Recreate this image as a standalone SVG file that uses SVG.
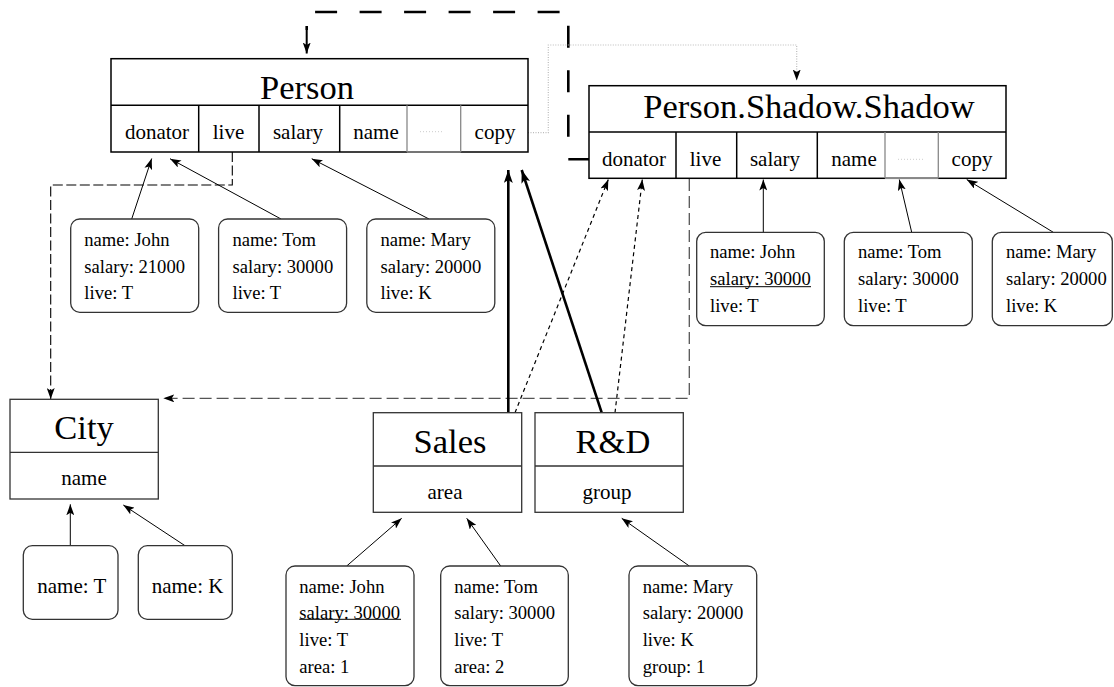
<svg xmlns="http://www.w3.org/2000/svg" width="1114" height="687" viewBox="0 0 1114 687">
<defs>
<style>
text{font-family:"Liberation Serif","Times New Roman",serif;fill:#000}
.title{font-size:34.5px;text-anchor:middle}
.attr{font-size:21px;text-anchor:middle}
.inst{font-size:18.6px}
.box{fill:#fff;stroke:#000;stroke-width:1.5}
.gbox{fill:#fff;stroke:#333;stroke-width:1.3}
.div{stroke:#000;stroke-width:1.5}
.gdiv{stroke:#888;stroke-width:1.3}
.dots{stroke:#ccc;stroke-width:1;stroke-dasharray:1,2}
.rbox{fill:#fff;stroke:#333;stroke-width:1.3}
.thin{fill:none;stroke:#000;stroke-width:1;marker-end:url(#ah)}
.thick{fill:none;stroke:#000;stroke-width:2.6;marker-end:url(#ahb)}
.dotted{fill:none;stroke:#000;stroke-width:1.2;stroke-dasharray:4,3.5;marker-end:url(#ah)}
.dash1{fill:none;stroke:#000;stroke-width:1.1;stroke-dasharray:10,3.5;marker-end:url(#ah)}
.dash2{fill:none;stroke:#555;stroke-width:1.3;stroke-dasharray:12,5;marker-end:url(#ah)}
.bigdash{fill:none;stroke:#000;stroke-width:2.6;stroke-dasharray:22,22.5}
.gdot{fill:none;stroke:#bbb;stroke-width:1.2;stroke-dasharray:1,1.5;marker-end:url(#ah)}
.ul{stroke:#000;stroke-width:1}
</style>
<marker id="ah" markerWidth="11" markerHeight="8" refX="11" refY="4" orient="auto" markerUnits="userSpaceOnUse">
<path d="M0,0 L11,4 L0,8 L2.5,4 z" fill="#000"/>
</marker>
<marker id="ahb" markerWidth="13" markerHeight="9" refX="13" refY="4.5" orient="auto" markerUnits="userSpaceOnUse">
<path d="M0,0 L13,4.5 L0,9 L3,4.5 z" fill="#000"/>
</marker>
</defs>

<g id="connectors">
<path class="bigdash" d="M590.3,159.3 H568.3 V12 H306.7 V30"/>
<path class="thin" style="stroke-width:2" d="M306.7,30 V53.5"/>
<path class="gdot" d="M528,132.7 H548.3 V45 H796.7 V80.5"/>
<path class="dash1" d="M232.3,152 V185 H50.7 V399"/>
<path class="dash2" d="M689.3,179 V398.3 H163.3"/>
<path class="thin" d="M131.7,219 L151.7,158.5"/>
<path class="thin" d="M281,219 L170,158.7"/>
<path class="thin" d="M429,219 L311.7,158.7"/>
<path class="thin" d="M763.3,232.3 V179.5"/>
<path class="thin" d="M911.7,232.3 L899.3,179.5"/>
<path class="thin" d="M1053.3,232.3 L966.7,179.5"/>
<path class="thick" d="M508.3,412.7 V170"/>
<path class="thick" d="M601.7,412.7 L521.7,170"/>
<path class="dotted" d="M515,412.7 L608.3,179.5"/>
<path class="dotted" d="M615,412.7 L642.3,179.5"/>
<path class="thin" d="M70.3,545.7 V504.3"/>
<path class="thin" d="M185,545.7 L123.3,505"/>
<path class="thin" d="M346.7,566 L401.7,518.3"/>
<path class="thin" d="M500.7,566 L466.7,518.3"/>
<path class="thin" d="M689.3,566 L621.7,518.3"/>
</g>

<g id="person">
<rect class="box" x="111" y="58.7" width="417" height="93.3"/>
<line class="div" x1="111" y1="105.3" x2="528" y2="105.3"/>
<line class="div" x1="198.7" y1="105.3" x2="198.7" y2="152"/>
<line class="div" x1="259" y1="105.3" x2="259" y2="152"/>
<line class="div" x1="339.7" y1="105.3" x2="339.7" y2="152"/>
<line class="gdiv" x1="407" y1="105.3" x2="407" y2="152"/>
<line class="gdiv" x1="460.7" y1="105.3" x2="460.7" y2="152"/>
<line class="gdiv" x1="407" y1="152" x2="460.7" y2="152"/>
<line class="dots" x1="420" y1="131.7" x2="444" y2="131.7"/>
<text class="title" x="307" y="99">Person</text>
<text class="attr" x="157" y="139">donator</text>
<text class="attr" x="228.5" y="139">live</text>
<text class="attr" x="298" y="139">salary</text>
<text class="attr" x="376" y="139">name</text>
<text class="attr" x="495" y="139">copy</text>
</g>

<g id="shadow">
<rect class="box" x="589" y="85.7" width="417" height="92.6"/>
<line class="div" x1="589" y1="132" x2="1006" y2="132"/>
<line class="div" x1="676" y1="132" x2="676" y2="178.3"/>
<line class="div" x1="736.7" y1="132" x2="736.7" y2="178.3"/>
<line class="div" x1="817.3" y1="132" x2="817.3" y2="178.3"/>
<line class="gdiv" x1="885" y1="132" x2="885" y2="178.3"/>
<line class="gdiv" x1="938.3" y1="132" x2="938.3" y2="178.3"/>
<line class="gdiv" x1="885" y1="178.3" x2="938.3" y2="178.3"/>
<line class="dots" x1="898" y1="159.3" x2="923" y2="159.3"/>
<text class="title" x="809" y="118.3">Person.Shadow.Shadow</text>
<text class="attr" x="634" y="166">donator</text>
<text class="attr" x="705.5" y="166">live</text>
<text class="attr" x="775" y="166">salary</text>
<text class="attr" x="854" y="166">name</text>
<text class="attr" x="972" y="166">copy</text>
</g>

<g id="city">
<rect class="gbox" x="10" y="399.3" width="148.3" height="99.7"/>
<line class="gdiv" style="stroke:#333" x1="10" y1="452.3" x2="158.3" y2="452.3"/>
<text class="title" x="84" y="439.3">City</text>
<text class="attr" x="84" y="485">name</text>
</g>

<g id="sales">
<rect class="gbox" x="373.3" y="412.7" width="148.4" height="99.6"/>
<line class="gdiv" style="stroke:#333" x1="373.3" y1="466" x2="521.7" y2="466"/>
<text class="title" x="450" y="452.7">Sales</text>
<text class="attr" x="445" y="499">area</text>
</g>

<g id="rnd">
<rect class="gbox" x="535" y="412.7" width="148.3" height="99.6"/>
<line class="gdiv" style="stroke:#333" x1="535" y1="466" x2="683.3" y2="466"/>
<text class="title" x="613" y="452.7">R&amp;D</text>
<text class="attr" x="607" y="499">group</text>
</g>

<g id="p-john">
<rect class="rbox" x="70.7" y="219" width="128" height="93.3" rx="9"/>
<text class="inst" x="84.3" y="246">name: John</text>
<text class="inst" x="84.3" y="272.7">salary: 21000</text>
<text class="inst" x="84.3" y="299.3">live: T</text>
</g>
<g id="p-tom">
<rect class="rbox" x="218.6" y="219" width="128" height="93.3" rx="9"/>
<text class="inst" x="232.5" y="246">name: Tom</text>
<text class="inst" x="232.5" y="272.7">salary: 30000</text>
<text class="inst" x="232.5" y="299.3">live: T</text>
</g>
<g id="p-mary">
<rect class="rbox" x="366.8" y="219" width="128" height="93.3" rx="9"/>
<text class="inst" x="380.5" y="246">name: Mary</text>
<text class="inst" x="380.5" y="272.7">salary: 20000</text>
<text class="inst" x="380.5" y="299.3">live: K</text>
</g>

<g id="s-john">
<rect class="rbox" x="696.7" y="232.3" width="127.6" height="93.4" rx="9"/>
<text class="inst" x="710" y="258.3">name: John</text>
<text class="inst" x="710" y="285">salary: 30000</text>
<line class="ul" x1="710" y1="286.7" x2="811" y2="286.7"/>
<text class="inst" x="710" y="311.7">live: T</text>
</g>
<g id="s-tom">
<rect class="rbox" x="844.3" y="232.3" width="128" height="93.4" rx="9"/>
<text class="inst" x="858" y="258.3">name: Tom</text>
<text class="inst" x="858" y="285">salary: 30000</text>
<text class="inst" x="858" y="311.7">live: T</text>
</g>
<g id="s-mary">
<rect class="rbox" x="992.3" y="232.3" width="120" height="93.4" rx="9"/>
<text class="inst" x="1006" y="258.3">name: Mary</text>
<text class="inst" x="1006" y="285">salary: 20000</text>
<text class="inst" x="1006" y="311.7">live: K</text>
</g>

<g id="c-t">
<rect class="rbox" x="23.3" y="545.7" width="94.7" height="73.6" rx="9"/>
<text class="attr" style="text-anchor:start" x="37.3" y="592.7">name: T</text>
</g>
<g id="c-k">
<rect class="rbox" x="138.3" y="545.7" width="94" height="73.6" rx="9"/>
<text class="attr" style="text-anchor:start" x="151.7" y="592.7">name: K</text>
</g>

<g id="sa-john">
<rect class="rbox" x="286" y="566" width="128" height="119.7" rx="9"/>
<text class="inst" x="299.3" y="592.7">name: John</text>
<text class="inst" x="299.3" y="619.3">salary: 30000</text>
<line class="ul" x1="299.3" y1="619.3" x2="401" y2="619.3"/>
<text class="inst" x="299.3" y="646">live: T</text>
<text class="inst" x="299.3" y="672.7">area: 1</text>
</g>
<g id="sa-tom">
<rect class="rbox" x="440.7" y="566" width="127.6" height="119.7" rx="9"/>
<text class="inst" x="454.3" y="592.7">name: Tom</text>
<text class="inst" x="454.3" y="619.3">salary: 30000</text>
<text class="inst" x="454.3" y="646">live: T</text>
<text class="inst" x="454.3" y="672.7">area: 2</text>
</g>
<g id="r-mary">
<rect class="rbox" x="629" y="566" width="127.7" height="119.7" rx="9"/>
<text class="inst" x="642.7" y="592.7">name: Mary</text>
<text class="inst" x="642.7" y="619.3">salary: 20000</text>
<text class="inst" x="642.7" y="646">live: K</text>
<text class="inst" x="642.7" y="672.7">group: 1</text>
</g>
</svg>
